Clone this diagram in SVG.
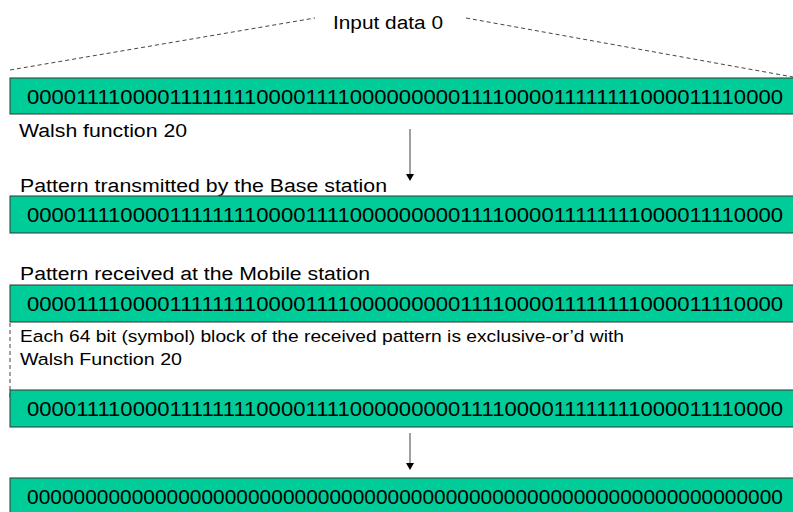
<svg xmlns="http://www.w3.org/2000/svg" width="793" height="512" viewBox="0 0 793 512">
<style>
.box{fill:#00CC99;stroke:#333;stroke-width:1}
.bits{font-family:"Liberation Sans",Arial,sans-serif;font-size:20.5px;fill:#000}
.lbl{font-family:"Liberation Sans",Arial,sans-serif;font-size:18.8px;fill:#000}
.small{font-family:"Liberation Sans",Arial,sans-serif;font-size:16.3px;fill:#000}
.dash{stroke:#444;stroke-width:1;stroke-dasharray:4,3;fill:none}
.arr{stroke:#808080;stroke-width:1.5;fill:none}
</style>
<rect width="793" height="512" fill="#fff"/>
<g id="connectors">
<line class="dash" x1="10" y1="70" x2="315" y2="18"/>
<line class="dash" x1="466" y1="18" x2="793" y2="77"/>
<line class="dash" x1="10" y1="323" x2="10" y2="398"/>
<path class="arr" d="M410,129 V174"/>
<path d="M406,174 L414,174 L410,181 Z" fill="#000"/>
<path class="arr" d="M410,433 V463"/>
<path d="M406,463 L414,463 L410,470 Z" fill="#000"/>
</g>
<g id="input-label"><text class="lbl" x="333" y="29" textLength="110" lengthAdjust="spacingAndGlyphs">Input data 0</text></g>
<g id="walsh-box">
<rect class="box" x="10" y="78" width="790" height="36"/>
<text class="bits" x="27" y="104" textLength="756" lengthAdjust="spacingAndGlyphs">00001111000011111111000011110000000001111000011111111000011110000</text>
</g>
<g id="walsh-label"><text class="lbl" x="19" y="137" textLength="168" lengthAdjust="spacingAndGlyphs">Walsh function 20</text></g>
<g id="transmitted-label"><text class="lbl" x="20" y="192" textLength="367" lengthAdjust="spacingAndGlyphs">Pattern transmitted by the Base station</text></g>
<g id="transmitted-box">
<rect class="box" x="10" y="196" width="790" height="37"/>
<text class="bits" x="27" y="222" textLength="756" lengthAdjust="spacingAndGlyphs">00001111000011111111000011110000000001111000011111111000011110000</text>
</g>
<g id="received-label"><text class="lbl" x="20" y="280" textLength="350" lengthAdjust="spacingAndGlyphs">Pattern received at the Mobile station</text></g>
<g id="received-box">
<rect class="box" x="10" y="285" width="790" height="37"/>
<text class="bits" x="27" y="311" textLength="756" lengthAdjust="spacingAndGlyphs">00001111000011111111000011110000000001111000011111111000011110000</text>
</g>
<g id="xor-label">
<text class="small" x="20" y="342" textLength="604" lengthAdjust="spacingAndGlyphs">Each 64 bit (symbol) block of the received pattern is exclusive-or’d with</text>
<text class="small" x="20" y="365" textLength="162" lengthAdjust="spacingAndGlyphs">Walsh Function 20</text>
</g>
<g id="xor-box">
<rect class="box" x="10" y="390" width="790" height="37"/>
<text class="bits" x="27" y="416" textLength="756" lengthAdjust="spacingAndGlyphs">00001111000011111111000011110000000001111000011111111000011110000</text>
</g>
<g id="result-box">
<rect class="box" x="10" y="478" width="790" height="40"/>
<text class="bits" x="27" y="504" textLength="756" lengthAdjust="spacingAndGlyphs">00000000000000000000000000000000000000000000000000000000000000000</text>
</g>
</svg>
